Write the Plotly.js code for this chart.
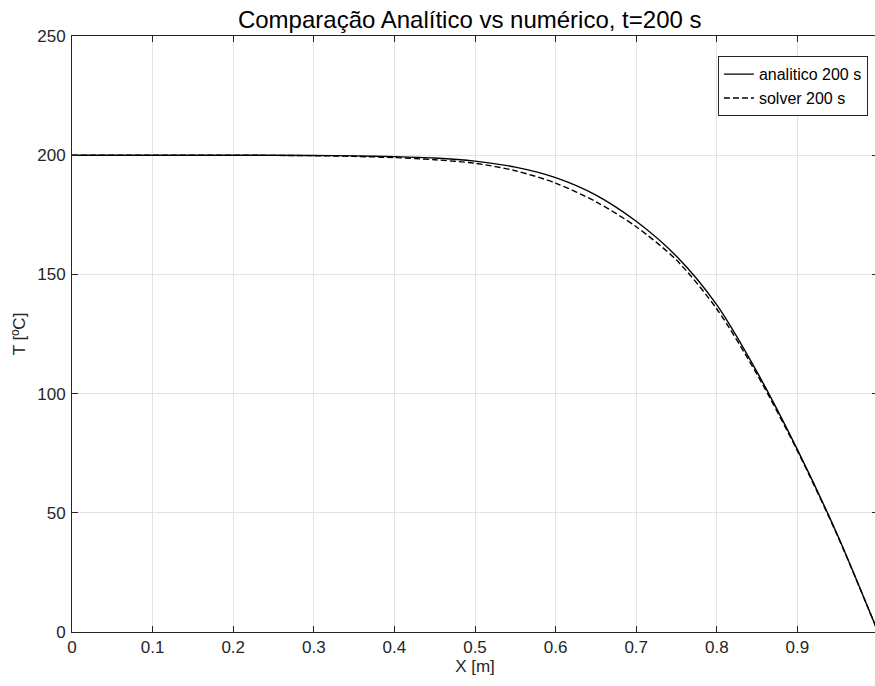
<!DOCTYPE html>
<html>
<head>
<meta charset="utf-8">
<script src="https://cdn.plot.ly/plotly-3.0.1.min.js"></script>
<style>
html,body{margin:0;padding:0;overflow:hidden;background:#fff;}
#chart{width:878px;height:686px;}
</style>
</head>
<body>
<div id="chart"></div>
<script>
// Position x [m]
const xPos = [0, 0.1, 0.2, 0.3, 0.35, 0.4, 0.45, 0.5, 0.55, 0.6, 0.65, 0.7, 0.75, 0.8, 0.85, 0.9, 0.95, 1.0];
// Analytical solution T [ºC] at t=200 s
const tAnalitico = [200, 200, 200, 199.9, 199.7, 199.4, 198.8, 197.5, 195.0, 190.6, 183.3, 172.3, 157.6, 137.2, 109.0, 76.5, 40.5, 0];
// Numerical solver T [ºC] at t=200 s
const tSolver = [200, 200, 200, 199.8, 199.5, 199.0, 198.1, 196.6, 193.5, 188.3, 180.5, 170.0, 156.0, 135.5, 108.0, 76.0, 40.2, 0];
// Tick labels
const xTicks = [0, 0.1, 0.2, 0.3, 0.4, 0.5, 0.6, 0.7, 0.8, 0.9];
const xTickText = ['0', '0.1', '0.2', '0.3', '0.4', '0.5', '0.6', '0.7', '0.8', '0.9'];
const yTicks = [0, 50, 100, 150, 200, 250];

const FONT = 'Liberation Sans, Arial, sans-serif';

const traces = [
  {x: xPos, y: tAnalitico, type: 'scatter', mode: 'lines', name: 'analitico 200 s',
   line: {color: '#000000', width: 1.4, shape: 'spline', smoothing: 0.8}},
  {x: xPos, y: tSolver, type: 'scatter', mode: 'lines', name: 'solver 200 s',
   line: {color: '#000000', width: 1.4, dash: '6px,3px', shape: 'spline', smoothing: 0.8}}
];

const axisCommon = {
  showline: true, linecolor: '#262626', linewidth: 1, mirror: 'ticks',
  ticks: 'inside', ticklen: 6, tickcolor: '#262626', tickwidth: 1,
  showgrid: true, gridcolor: '#e3e3e3', gridwidth: 1, zeroline: false,
  tickfont: {family: FONT, size: 17, color: '#262626'}
};

const layout = {
  width: 878, height: 686,
  margin: {l: 72, r: 0, t: 36, b: 54},
  paper_bgcolor: '#ffffff', plot_bgcolor: '#ffffff',
  title: {text: 'Comparação Analítico vs numérico, t=200 s',
          font: {family: FONT, size: 24, color: '#000000'},
          x: 0.535, xanchor: 'center', y: 0.972, yanchor: 'middle'},
  xaxis: Object.assign({}, axisCommon, {
    range: [0, 1], tickvals: xTicks, ticktext: xTickText,
    title: {text: 'X [m]', font: {family: FONT, size: 17, color: '#262626'}, standoff: 2}
  }),
  yaxis: Object.assign({}, axisCommon, {
    range: [0, 250], tickvals: yTicks, ticklabelstandoff: 2,
    title: {text: 'T [ºC]', font: {family: FONT, size: 17, color: '#262626'}, standoff: 7}
  }),
  showlegend: true,
  legend: {x: 0.9875, xanchor: 'right', y: 0.966, yanchor: 'top',
           bgcolor: '#ffffff', bordercolor: '#262626', borderwidth: 1,
           font: {family: FONT, size: 16, color: '#000000'},
           tracegroupgap: 0, itemwidth: 30}
};

Plotly.newPlot('chart', traces, layout, {displayModeBar: false, responsive: false});
</script>
</body>
</html>
